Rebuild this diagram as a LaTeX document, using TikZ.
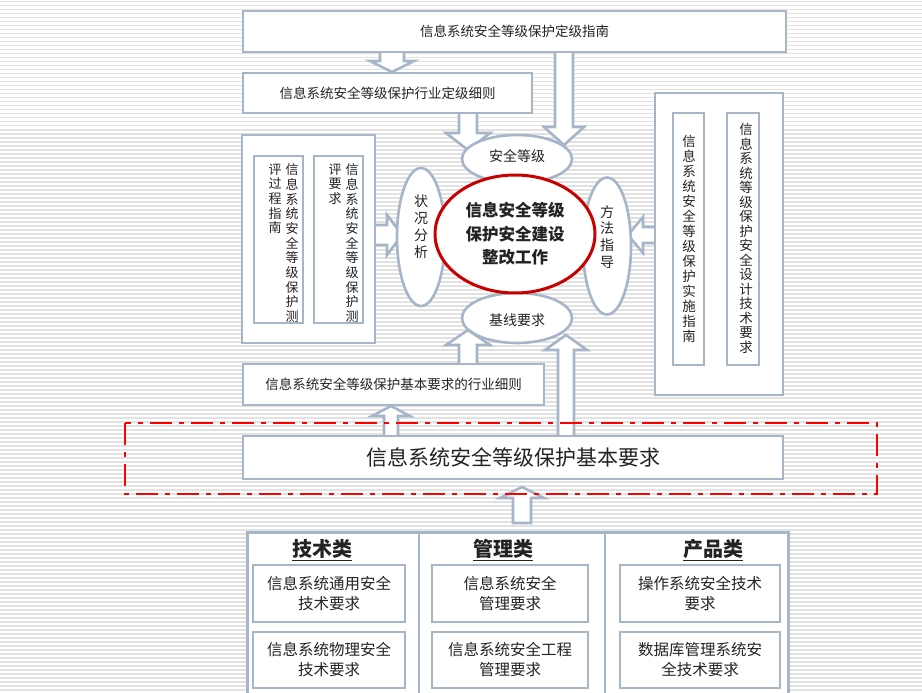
\documentclass[tikz,border=0pt]{standalone}
\usepackage{fontspec}
\newfontfamily\cjk{Noto Sans CJK SC}
\usetikzlibrary{shapes.geometric}
\definecolor{bgray}{RGB}{166,181,199}
\definecolor{txt}{RGB}{35,35,35}
\definecolor{dred}{RGB}{200,0,0}
\definecolor{stripe}{RGB}{226,226,226}
\newcommand{\varr}[6]{% x, tail, headbase, tip, shafthalf, headhalf
  \path[blk] ({#1-#5},#2) -- ({#1-#5},#3) -- ({#1-#6},#3) -- (#1,#4) -- ({#1+#6},#3) -- ({#1+#5},#3) -- ({#1+#5},#2);}
\newcommand{\harr}[6]{% y, tail, headbase, tip, shafthalf, headhalf
  \path[blk] (#2,{#1-#5}) -- (#3,{#1-#5}) -- (#3,{#1-#6}) -- (#4,#1) -- (#3,{#1+#6}) -- (#3,{#1+#5}) -- (#2,{#1+#5});}
\begin{document}
\begin{tikzpicture}[x=1pt,y=-1pt,
  box/.style={draw=bgray,line width=2.6pt,fill=white,inner sep=0pt,rectangle},
  blk/.style={draw=bgray,line width=2.6pt,fill=white,line join=miter},
  ell/.style={draw=bgray,line width=2.6pt,fill=white,ellipse,inner sep=0pt},
  lbl/.style={text=txt,inner sep=0pt,font=\cjk\fontsize{13.5}{16}\selectfont},
  vlbl/.style={text=txt,inner sep=0pt,align=center,anchor=north},
  hdr/.style={text=txt,inner sep=0pt,font=\cjk\bfseries\fontsize{20}{24}\selectfont},
  sub/.style={text=txt,inner sep=0pt,align=center,font=\cjk\fontsize{15.5}{20}\selectfont}]
\useasboundingbox (0,0) rectangle (922,693);
\clip (0,0) rectangle (922,693);
\fill[white] (0,0) rectangle (922,693);
\foreach \i in {0,...,173} \fill[stripe] (0,{\i*4+1}) rectangle (922,{\i*4+2.5});

% block arrows
\varr{392}{50}{61}{72}{12}{22}
\varr{468}{112}{133}{150}{9}{22}
\varr{564}{50}{127}{145}{9}{20}
\harr{235}{374}{387}{402}{10}{20}
\harr{235}{656}{643}{628}{8}{18}
\varr{468}{366}{345}{330}{9}{22}
\varr{566}{438}{350}{335}{8}{21}
\varr{391}{438}{416}{406}{7}{19}
\path[blk] (513,523) -- (513,498) -- (500,498) -- (522,487) -- (544,498) -- (531,498) -- (531,523) -- cycle;

% boxes
\node[box,minimum width=543,minimum height=41] (dj) at (514.5,31.5) {};
\node[lbl] at (dj.center) {信息系统安全等级保护定级指南};
\node[box,minimum width=289,minimum height=40] (hy) at (387.5,93) {};
\node[lbl] at (hy.center) {信息系统安全等级保护行业定级细则};

\node[box,minimum width=133,minimum height=208] (lb) at (308.5,239) {};
\node[box,minimum width=49,minimum height=167] (l1) at (278.5,239.5) {};
\node[box,minimum width=49,minimum height=167] (l2) at (338.5,239.5) {};
\node[vlbl,font=\cjk\fontsize{13}{14.7}\selectfont] at (292,163.5) {信\\息\\系\\统\\安\\全\\等\\级\\保\\护\\测};
\node[vlbl,font=\cjk\fontsize{13}{14.7}\selectfont] at (275,163.5) {评\\过\\程\\指\\南};
\node[vlbl,font=\cjk\fontsize{13}{14.7}\selectfont] at (352,163.5) {信\\息\\系\\统\\安\\全\\等\\级\\保\\护\\测};
\node[vlbl,font=\cjk\fontsize{13}{14.7}\selectfont] at (335,163.5) {评\\要\\求};

\node[box,minimum width=128,minimum height=302] (rb) at (719,244) {};
\node[box,minimum width=31,minimum height=252] (r1) at (688.5,239) {};
\node[box,minimum width=32,minimum height=252] (r2) at (743,239) {};
\node[vlbl,font=\cjk\fontsize{13.5}{15}\selectfont] at (689,135) {信\\息\\系\\统\\安\\全\\等\\级\\保\\护\\实\\施\\指\\南};
\node[vlbl,font=\cjk\fontsize{13.5}{14.5}\selectfont] at (746,123) {信\\息\\系\\统\\等\\级\\保\\护\\安\\全\\设\\计\\技\\术\\要\\求};

\node[box,minimum width=301,minimum height=41] (jbhy) at (393.5,384.5) {};
\node[lbl] at (jbhy.center) {信息系统安全等级保护基本要求的行业细则};
\node[box,minimum width=540,minimum height=43] (jb) at (513,457.5) {};
\node[text=txt,inner sep=0pt,font=\cjk\fontsize{21}{24}\selectfont] at (jb.center) {信息系统安全等级保护基本要求};

\draw[red,line width=2.4pt,dash pattern=on 22pt off 7pt on 5pt off 7pt] (125,423) rectangle (877,494);

% ellipses
\node[ell,minimum width=48,minimum height=138] (zk) at (421,237) {};
\node[vlbl,font=\cjk\fontsize{14}{17}\selectfont] at (421,195) {状\\况\\分\\析};
\node[ell,minimum width=48,minimum height=137] (ff) at (607,246) {};
\node[vlbl,font=\cjk\fontsize{14}{16.7}\selectfont] at (607,205) {方\\法\\指\\导};
\node[ell,minimum width=110,minimum height=48] (aq) at (517,159) {};
\node[lbl,font=\cjk\fontsize{14}{16}\selectfont] at (517,156) {安全等级};
\node[ell,minimum width=110,minimum height=50] (jx) at (517,318) {};
\node[lbl,font=\cjk\fontsize{14}{16}\selectfont] at (517,320) {基线要求};
\node[ellipse,draw=dred,line width=3pt,fill=white,minimum width=160,minimum height=118,inner sep=0pt] (core) at (515,234) {};
\node[text=txt,inner sep=0pt,align=center,font=\cjk\bfseries\fontsize{16.5}{23.5}\selectfont] at (core.center) {信息安全等级\\保护安全建设\\整改工作};

% bottom categories
\node[box,minimum width=541,minimum height=170,anchor=north west] (cat) at (246,531) {};
\draw[bgray,line width=2.6pt] (419,531) -- (419,701);
\draw[bgray,line width=2.6pt] (605,531) -- (605,701);
\node[hdr] at (322,550) {\underline{技术类}};
\node[hdr] at (503,550) {\underline{管理类}};
\node[hdr] at (713,550) {\underline{产品类}};

\node[box,minimum width=152,minimum height=57] (t1) at (329,593.5) {};
\node[sub] at (t1.center) {信息系统通用安全\\技术要求};
\node[box,minimum width=152,minimum height=56] (t2) at (329,660) {};
\node[sub] at (t2.center) {信息系统物理安全\\技术要求};
\node[box,minimum width=156,minimum height=57] (m1) at (510,593.5) {};
\node[sub] at (m1.center) {信息系统安全\\管理要求};
\node[box,minimum width=156,minimum height=56] (m2) at (510,660) {};
\node[sub] at (m2.center) {信息系统安全工程\\管理要求};
\node[box,minimum width=160,minimum height=57] (p1) at (700,593.5) {};
\node[sub] at (p1.center) {操作系统安全技术\\要求};
\node[box,minimum width=160,minimum height=56] (p2) at (700,660) {};
\node[sub] at (p2.center) {数据库管理系统安\\全技术要求};
\end{tikzpicture}
\end{document}
